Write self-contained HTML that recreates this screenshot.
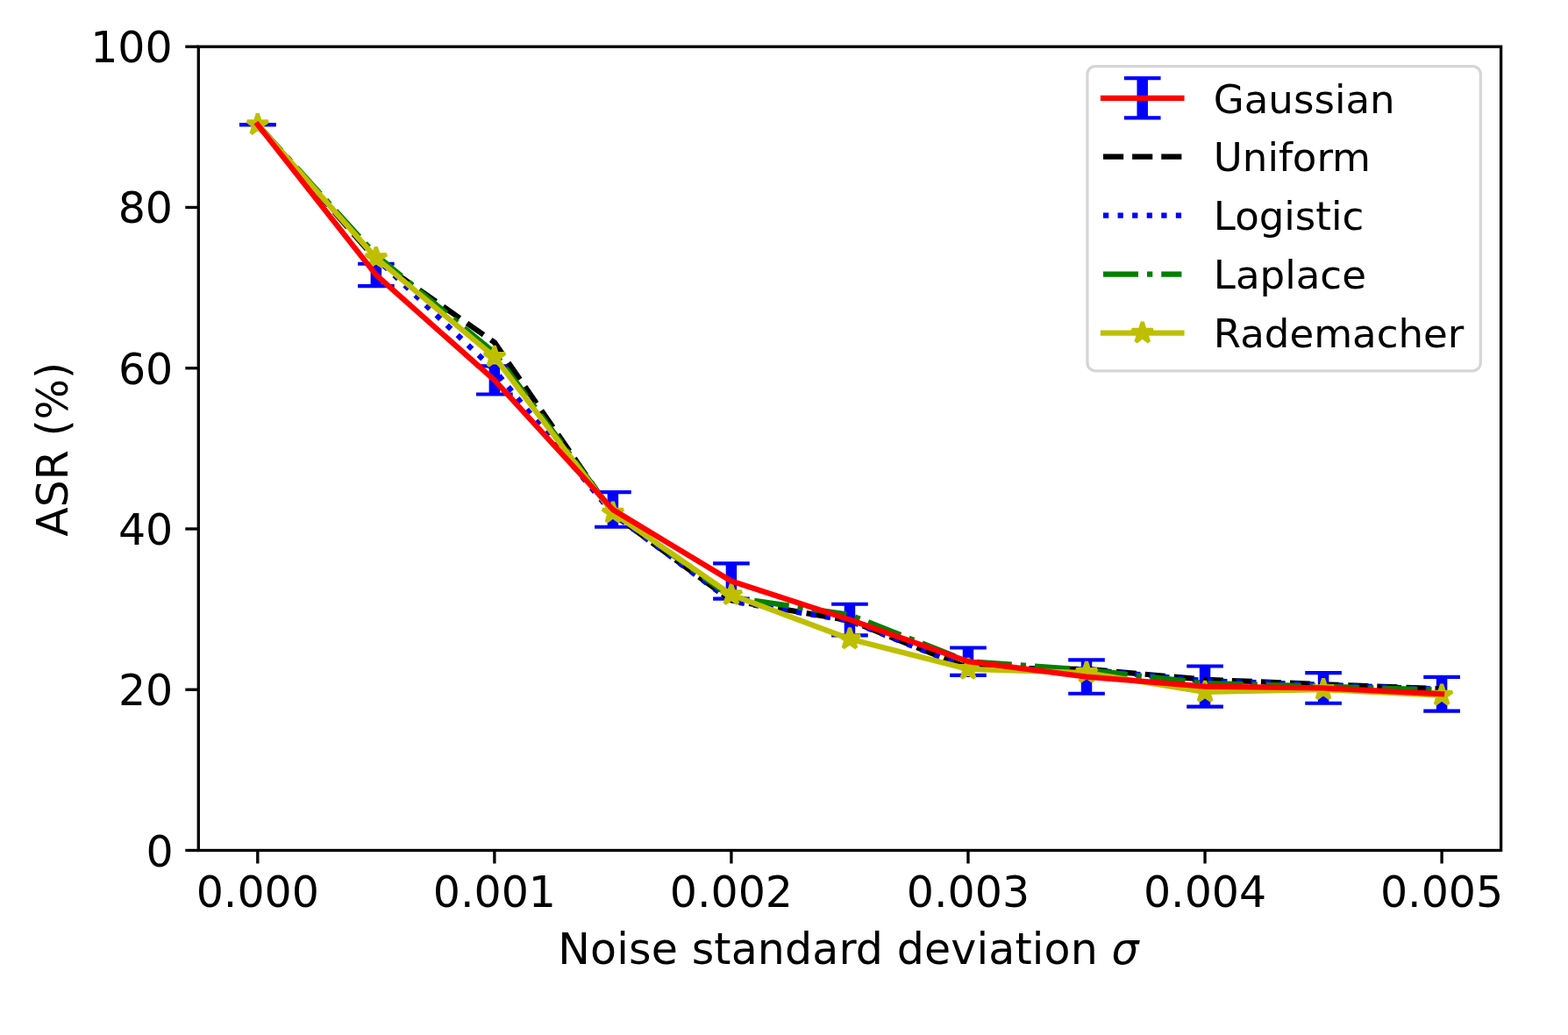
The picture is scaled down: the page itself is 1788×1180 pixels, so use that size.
<!DOCTYPE html>
<html><head><meta charset="utf-8"><title>ASR vs noise</title>
<style>html,body{margin:0;padding:0;background:#fff;}body{width:1788px;height:1180px;overflow:hidden;}svg{display:block;}</style>
</head><body>
<svg width="1788" height="1180" viewBox="0 0 1788 1180"><rect x="0" y="0" width="1788" height="1180" fill="#ffffff"/><g fill="none"><line x1="293.81" y1="142.08" x2="293.81" y2="142.08" stroke="#0000ff" stroke-width="12.5"/><line x1="272.98" y1="142.08" x2="314.64" y2="142.08" stroke="#0000ff" stroke-width="4.17"/><line x1="272.98" y1="142.08" x2="314.64" y2="142.08" stroke="#0000ff" stroke-width="4.17"/><line x1="428.84" y1="300.78" x2="428.84" y2="326.07" stroke="#0000ff" stroke-width="12.5"/><line x1="408.01" y1="300.78" x2="449.67" y2="300.78" stroke="#0000ff" stroke-width="4.17"/><line x1="408.01" y1="326.07" x2="449.67" y2="326.07" stroke="#0000ff" stroke-width="4.17"/><line x1="563.87" y1="417.43" x2="563.87" y2="449.50" stroke="#0000ff" stroke-width="12.5"/><line x1="543.04" y1="417.43" x2="584.70" y2="417.43" stroke="#0000ff" stroke-width="4.17"/><line x1="543.04" y1="449.50" x2="584.70" y2="449.50" stroke="#0000ff" stroke-width="4.17"/><line x1="698.90" y1="561.20" x2="698.90" y2="600.78" stroke="#0000ff" stroke-width="12.5"/><line x1="678.07" y1="561.20" x2="719.73" y2="561.20" stroke="#0000ff" stroke-width="4.17"/><line x1="678.07" y1="600.78" x2="719.73" y2="600.78" stroke="#0000ff" stroke-width="4.17"/><line x1="833.92" y1="642.38" x2="833.92" y2="682.70" stroke="#0000ff" stroke-width="12.5"/><line x1="813.09" y1="642.38" x2="854.75" y2="642.38" stroke="#0000ff" stroke-width="4.17"/><line x1="813.09" y1="682.70" x2="854.75" y2="682.70" stroke="#0000ff" stroke-width="4.17"/><line x1="968.95" y1="688.75" x2="968.95" y2="724.30" stroke="#0000ff" stroke-width="12.5"/><line x1="948.12" y1="688.75" x2="989.78" y2="688.75" stroke="#0000ff" stroke-width="4.17"/><line x1="948.12" y1="724.30" x2="989.78" y2="724.30" stroke="#0000ff" stroke-width="4.17"/><line x1="1103.98" y1="738.50" x2="1103.98" y2="769.84" stroke="#0000ff" stroke-width="12.5"/><line x1="1083.15" y1="738.50" x2="1124.81" y2="738.50" stroke="#0000ff" stroke-width="4.17"/><line x1="1083.15" y1="769.84" x2="1124.81" y2="769.84" stroke="#0000ff" stroke-width="4.17"/><line x1="1239.00" y1="752.43" x2="1239.00" y2="790.73" stroke="#0000ff" stroke-width="12.5"/><line x1="1218.17" y1="752.43" x2="1259.83" y2="752.43" stroke="#0000ff" stroke-width="4.17"/><line x1="1218.17" y1="790.73" x2="1259.83" y2="790.73" stroke="#0000ff" stroke-width="4.17"/><line x1="1374.03" y1="759.48" x2="1374.03" y2="805.67" stroke="#0000ff" stroke-width="12.5"/><line x1="1353.20" y1="759.48" x2="1394.86" y2="759.48" stroke="#0000ff" stroke-width="4.17"/><line x1="1353.20" y1="805.67" x2="1394.86" y2="805.67" stroke="#0000ff" stroke-width="4.17"/><line x1="1509.06" y1="767.09" x2="1509.06" y2="801.73" stroke="#0000ff" stroke-width="12.5"/><line x1="1488.23" y1="767.09" x2="1529.89" y2="767.09" stroke="#0000ff" stroke-width="4.17"/><line x1="1488.23" y1="801.73" x2="1529.89" y2="801.73" stroke="#0000ff" stroke-width="4.17"/><line x1="1644.09" y1="771.95" x2="1644.09" y2="810.61" stroke="#0000ff" stroke-width="12.5"/><line x1="1623.26" y1="771.95" x2="1664.92" y2="771.95" stroke="#0000ff" stroke-width="4.17"/><line x1="1623.26" y1="810.61" x2="1664.92" y2="810.61" stroke="#0000ff" stroke-width="4.17"/><polyline points="293.81,142.08 428.84,296.02 563.87,390.40 698.90,586.03 833.92,684.53 968.95,707.44 1103.98,761.50 1239.00,762.87 1374.03,774.79 1509.06,780.28 1644.09,785.32" stroke="#000000" stroke-width="6.25" stroke-dasharray="23.125 10" stroke-linejoin="round" stroke-linecap="butt"/><polyline points="293.81,142.08 428.84,294.19 563.87,422.01 698.90,586.03 833.92,685.45 968.95,707.90 1103.98,761.96 1239.00,763.33 1374.03,776.16 1509.06,780.74 1644.09,785.78" stroke="#0000ff" stroke-width="6.25" stroke-dasharray="6.25 10.3125" stroke-linejoin="round" stroke-linecap="butt"/><polyline points="293.81,142.08 428.84,290.98 563.87,402.31 698.90,583.74 833.92,680.87 968.95,701.02 1103.98,754.17 1239.00,763.79 1374.03,778.91 1509.06,782.57 1644.09,786.70" stroke="#008000" stroke-width="6.25" stroke-dasharray="40 10 6.25 10" stroke-linejoin="round" stroke-linecap="butt"/><polyline points="293.81,142.08 428.84,294.19 563.87,406.89 698.90,584.65 833.92,678.12 968.95,728.51 1103.98,762.87 1239.00,767.00 1374.03,788.99 1509.06,786.24 1644.09,792.65" stroke="#bfbf00" stroke-width="6.25" stroke-linejoin="round" stroke-linecap="square"/><polygon points="293.81,129.58 291.01,138.22 281.93,138.22 289.27,143.56 286.47,152.19 293.81,146.86 301.16,152.19 298.35,143.56 305.70,138.22 296.62,138.22" fill="#bfbf00" stroke="#bfbf00" stroke-width="4.17" stroke-linejoin="bevel"/><polygon points="428.84,281.69 426.03,290.32 416.95,290.32 424.30,295.66 421.49,304.30 428.84,298.96 436.19,304.30 433.38,295.66 440.73,290.32 431.65,290.32" fill="#bfbf00" stroke="#bfbf00" stroke-width="4.17" stroke-linejoin="bevel"/><polygon points="563.87,394.39 561.06,403.03 551.98,403.03 559.33,408.37 556.52,417.00 563.87,411.67 571.22,417.00 568.41,408.37 575.76,403.03 566.67,403.03" fill="#bfbf00" stroke="#bfbf00" stroke-width="4.17" stroke-linejoin="bevel"/><polygon points="698.90,572.15 696.09,580.79 687.01,580.79 694.35,586.13 691.55,594.77 698.90,589.43 706.24,594.77 703.44,586.13 710.78,580.79 701.70,580.79" fill="#bfbf00" stroke="#bfbf00" stroke-width="4.17" stroke-linejoin="bevel"/><polygon points="833.92,665.62 831.12,674.25 822.03,674.25 829.38,679.59 826.58,688.23 833.92,682.89 841.27,688.23 838.46,679.59 845.81,674.25 836.73,674.25" fill="#bfbf00" stroke="#bfbf00" stroke-width="4.17" stroke-linejoin="bevel"/><polygon points="968.95,716.01 966.14,724.65 957.06,724.65 964.41,729.99 961.60,738.63 968.95,733.29 976.30,738.63 973.49,729.99 980.84,724.65 971.76,724.65" fill="#bfbf00" stroke="#bfbf00" stroke-width="4.17" stroke-linejoin="bevel"/><polygon points="1103.98,750.37 1101.17,759.01 1092.09,759.01 1099.44,764.35 1096.63,772.99 1103.98,767.65 1111.32,772.99 1108.52,764.35 1115.87,759.01 1106.78,759.01" fill="#bfbf00" stroke="#bfbf00" stroke-width="4.17" stroke-linejoin="bevel"/><polygon points="1239.00,754.50 1236.20,763.13 1227.12,763.13 1234.46,768.47 1231.66,777.11 1239.00,771.77 1246.35,777.11 1243.55,768.47 1250.89,763.13 1241.81,763.13" fill="#bfbf00" stroke="#bfbf00" stroke-width="4.17" stroke-linejoin="bevel"/><polygon points="1374.03,776.49 1371.23,785.13 1362.14,785.13 1369.49,790.46 1366.68,799.10 1374.03,793.76 1381.38,799.10 1378.57,790.46 1385.92,785.13 1376.84,785.13" fill="#bfbf00" stroke="#bfbf00" stroke-width="4.17" stroke-linejoin="bevel"/><polygon points="1509.06,773.74 1506.25,782.38 1497.17,782.38 1504.52,787.72 1501.71,796.35 1509.06,791.01 1516.41,796.35 1513.60,787.72 1520.95,782.38 1511.87,782.38" fill="#bfbf00" stroke="#bfbf00" stroke-width="4.17" stroke-linejoin="bevel"/><polygon points="1644.09,780.15 1641.28,788.79 1632.20,788.79 1639.55,794.13 1636.74,802.77 1644.09,797.43 1651.43,802.77 1648.63,794.13 1655.97,788.79 1646.89,788.79" fill="#bfbf00" stroke="#bfbf00" stroke-width="4.17" stroke-linejoin="bevel"/><polyline points="293.81,142.08 428.84,313.43 563.87,433.46 698.90,580.99 833.92,662.54 968.95,706.52 1103.98,754.17 1239.00,771.58 1374.03,782.57 1509.06,784.41 1644.09,791.28" stroke="#ff0000" stroke-width="6.25" stroke-linejoin="round" stroke-linecap="square"/></g><rect x="226.3" y="53.2" width="1485.30" height="916.30" fill="none" stroke="#000" stroke-width="3.33" stroke-linejoin="miter"/><g stroke="#000" stroke-width="3.33"><line x1="211.30" y1="969.50" x2="226.30" y2="969.50"/><line x1="211.30" y1="786.24" x2="226.30" y2="786.24"/><line x1="211.30" y1="602.98" x2="226.30" y2="602.98"/><line x1="211.30" y1="419.72" x2="226.30" y2="419.72"/><line x1="211.30" y1="236.46" x2="226.30" y2="236.46"/><line x1="211.30" y1="53.20" x2="226.30" y2="53.20"/><line x1="293.81" y1="969.50" x2="293.81" y2="984.50"/><line x1="563.87" y1="969.50" x2="563.87" y2="984.50"/><line x1="833.92" y1="969.50" x2="833.92" y2="984.50"/><line x1="1103.98" y1="969.50" x2="1103.98" y2="984.50"/><line x1="1374.03" y1="969.50" x2="1374.03" y2="984.50"/><line x1="1644.09" y1="969.50" x2="1644.09" y2="984.50"/></g><g font-family="DejaVu Sans, sans-serif" font-size="49" fill="#000"><text x="197.60" y="987.60" text-anchor="end">0</text><text x="197.30" y="803.94" text-anchor="end">20</text><text x="197.30" y="621.48" text-anchor="end">40</text><text x="197.30" y="438.42" text-anchor="end">60</text><text x="197.00" y="253.96" text-anchor="end">80</text><text x="196.70" y="70.60" text-anchor="end">100</text><text x="293.81" y="1034.2" text-anchor="middle">0.000</text><text x="563.87" y="1034.2" text-anchor="middle">0.001</text><text x="833.92" y="1034.2" text-anchor="middle">0.002</text><text x="1103.98" y="1034.2" text-anchor="middle">0.003</text><text x="1374.03" y="1034.2" text-anchor="middle">0.004</text><text x="1644.09" y="1034.2" text-anchor="middle">0.005</text><text x="967.55" y="1099" text-anchor="middle" letter-spacing="0.14">Noise standard deviation <tspan font-style="italic">σ</tspan></text><text transform="translate(77.3 512.35) rotate(-90)" text-anchor="middle">ASR (%)</text></g><rect x="1239.9" y="75.6" width="448.40" height="347.20" rx="9" ry="9" fill="#ffffff" fill-opacity="0.8" stroke="#cccccc" stroke-opacity="0.8" stroke-width="3.33"/><line x1="1302.70" y1="89.20" x2="1302.70" y2="134.40" stroke="#0000ff" stroke-width="12.5"/><line x1="1281.87" y1="89.20" x2="1323.53" y2="89.20" stroke="#0000ff" stroke-width="4.17"/><line x1="1281.87" y1="134.40" x2="1323.53" y2="134.40" stroke="#0000ff" stroke-width="4.17"/><line x1="1258.0" y1="111.8" x2="1347.4" y2="111.8" stroke="#ff0000" stroke-width="6.25" stroke-linecap="square"/><line x1="1258.0" y1="178.7" x2="1347.4" y2="178.7" stroke="#000" stroke-width="6.25" stroke-dasharray="23.125 10"/><line x1="1258.0" y1="245.65" x2="1347.4" y2="245.65" stroke="#0000ff" stroke-width="6.25" stroke-dasharray="6.25 10.3125"/><line x1="1258.0" y1="312.6" x2="1347.4" y2="312.6" stroke="#008000" stroke-width="6.25" stroke-dasharray="40 10 6.25 10"/><line x1="1258.0" y1="379.6" x2="1347.4" y2="379.6" stroke="#bfbf00" stroke-width="6.25" stroke-linecap="square"/><polygon points="1302.70,367.10 1299.89,375.74 1290.81,375.74 1298.16,381.08 1295.35,389.71 1302.70,384.37 1310.05,389.71 1307.24,381.08 1314.59,375.74 1305.51,375.74" fill="#bfbf00" stroke="#bfbf00" stroke-width="4.17" stroke-linejoin="bevel"/><g font-family="DejaVu Sans, sans-serif" font-size="45.1" fill="#000"><text x="1383.8" y="129.20">Gaussian</text><text x="1383.8" y="195.10">Uniform</text><text x="1383.8" y="261.60">Logistic</text><text x="1383.8" y="328.60">Laplace</text><text x="1383.8" y="395.60">Rademacher</text></g></svg>
</body></html>
